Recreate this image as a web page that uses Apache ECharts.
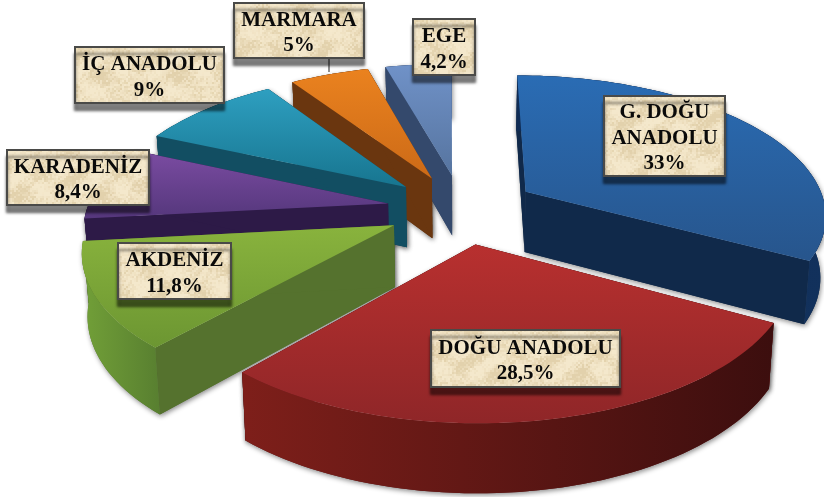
<!DOCTYPE html>
<html><head><meta charset="utf-8">
<style>html,body{margin:0;padding:0;background:#fff}#c{width:824px;height:497px}</style>
<script src="https://cdn.jsdelivr.net/npm/echarts@6/dist/echarts.min.js"></script>
</head><body><div id="c"></div>
<script>
// ---- data ----
var categories = ['G. DOĞU\nANADOLU', 'DOĞU ANADOLU', 'AKDENİZ', 'KARADENİZ', 'İÇ ANADOLU', 'MARMARA', 'EGE'];
var values = [33, 28.5, 11.8, 8.4, 9, 5, 4.2];

// ---- style / layout ----
var topColors = [['#2a6cb4','#27558c'],['#b8302f','#8f2628'],['#89b33d','#6c9632'],['#7b4ca2','#55377c'],['#2e9fc0','#17758f'],['#ea821f','#cc6a17'],['#7092c8','#56749f']];
var wallColors = ['#10294a','#5c1515','#55722e','#2d1a47','#124e62','#6a360f','#34496c'];
var rimColors = [['#0f2c55','#12315c'],['#7e1f1a','#3c0e0e'],['#72a038','#587f30'],['#2d1a47','#2d1a47'],['#124e62','#124e62'],['#6a360f','#6a360f'],['#34496c','#34496c']];
var paintOrder = [6, 5, 4, 3, 2, 0, 1];
var labelBoxes = [[604,96,121,80],[431,330,189,57],[118,243,113,56],[7,150,142,55],[75,47,149,56],[234,3,130,55],[413,19,62,56]];
var CX = 462, CY = 209, RX = 301, KY = 139, D = 6.5, EXPLODE = 0.25, BOTTOM_SHRINK = 0.985;

function project(x, y) {
  var s = D / (D + y);
  return [CX + RX * x * s, CY - KY * y * s, s];
}
function lower(p) {
  return [CX + (p[0] - CX) * BOTTOM_SHRINK, p[1] + 61 + 38 * (p[2] - 1)];
}
function pt(a) { return [a[0], a[1]]; }

var angles = [], acc = 0;
values.forEach(function (v) {
  var a0 = acc; acc += v / 100 * 2 * Math.PI; angles.push([a0, acc]);
});

function grad(c, horizontal) {
  return new echarts.graphic.LinearGradient(0, 0, horizontal ? 1 : 0, horizontal ? 0 : 1,
    [{offset: 0, color: c[0]}, {offset: 1, color: c[1]}]);
}
function poly(points, fill, extra) {
  return {type: 'polygon', shape: {points: points}, style: Object.assign({fill: fill}, extra || {})};
}
function geometry(i) {
  var a0 = angles[i][0], a1 = angles[i][1], mid = (a0 + a1) / 2;
  var ox = EXPLODE * Math.sin(mid), oy = EXPLODE * Math.cos(mid);
  var apex = project(ox, oy), arc = [], n = Math.max(6, Math.ceil((a1 - a0) / 0.03));
  for (var k = 0; k <= n; k++) {
    var a = a0 + (a1 - a0) * k / n;
    arc.push(project(ox + Math.sin(a), oy + Math.cos(a)));
  }
  return {apex: apex, arc: arc, n: n, apexB: lower(apex), arcB: arc.map(lower)};
}
function renderShadow(params, api) {
  var i = api.value(0), g = geometry(i);
  var sh = {shadowBlur: 5, shadowColor: 'rgba(0,0,0,0.45)', shadowOffsetX: 1, shadowOffsetY: 2};
  return {type: 'group', children: [
    poly([pt(g.apex), pt(g.arc[0]), pt(g.arcB[0]), pt(g.apexB)], wallColors[i], sh),
    poly([pt(g.apex), pt(g.arc[g.n]), pt(g.arcB[g.n]), pt(g.apexB)], wallColors[i], sh),
    poly(g.arc.map(pt).concat(g.arcB.slice().reverse().map(pt)), wallColors[i], sh)
  ]};
}
function renderSlice(params, api) {
  var i = api.value(0), g = geometry(i);
  return {type: 'group', children: [
    poly([pt(g.apex), pt(g.arc[0]), pt(g.arcB[0]), pt(g.apexB)], wallColors[i]),
    poly([pt(g.apex), pt(g.arc[g.n]), pt(g.arcB[g.n]), pt(g.apexB)], wallColors[i]),
    poly(g.arc.map(pt).concat(g.arcB.slice().reverse().map(pt)), grad(rimColors[i], true)),
    poly([pt(g.apex)].concat(g.arc.map(pt)), grad(topColors[i], false))
  ]};
}

// parchment texture for the label boxes (pattern fill only, carries no data)
function parchment() {
  var c = document.createElement('canvas'); c.width = 160; c.height = 120;
  var g = c.getContext('2d');
  g.fillStyle = '#efe1c2'; g.fillRect(0, 0, 160, 120);
  for (var y = 0; y < 120; y += 2) for (var x = 0; x < 160; x += 2) {
    var h = Math.sin(x * 12.9898 + y * 78.233) * 43758.5453; h -= Math.floor(h);
    var w = Math.sin(x * 0.157 + Math.sin(y * 0.105) * 2) + Math.sin(y * 0.209 + Math.sin(x * 0.0785) * 2);
    var t = w / 2 * 0.6 + (h - 0.5) * 0.9;
    g.fillStyle = t > 0 ? 'rgba(250,240,214,' + Math.min(0.5, t) + ')' : 'rgba(214,194,150,' + Math.min(0.5, -t) + ')';
    g.fillRect(x, y, 2, 2);
  }
  return c;
}
var texture = parchment();

function renderLabel(params, api) {
  var i = api.value(0), b = labelBoxes[i];
  var kids = [];
  if (i === 5) {
    kids.push({type: 'line', shape: {x1: 329, y1: b[1] + b[3], x2: 329, y2: 72},
      style: {stroke: '#444', lineWidth: 1.2}});
  }
  kids.push({type: 'rect', shape: {x: b[0], y: b[1], width: b[2], height: b[3]},
    style: {fill: {image: texture, repeat: 'repeat'}, stroke: '#4a4a48', lineWidth: 2,
      shadowBlur: 3, shadowColor: 'rgba(0,0,0,0.5)', shadowOffsetY: 7}});
  kids.push({type: 'text', x: b[0] + b[2] / 2, y: b[1] + b[3] / 2 + 2.5,
    style: {text: categories[i] + '\n' + String(values[i]).replace('.', ',') + '%',
      align: 'center', verticalAlign: 'middle', fill: '#0a0a0a',
      font: 'bold 21px "Liberation Serif"', lineHeight: 25.5}});
  return {type: 'group', children: kids};
}

var chart = echarts.init(document.getElementById('c'), null, {renderer: 'canvas'});
var sliceRows = paintOrder.map(function (i) { return [i]; });
chart.setOption({
  animation: false,
  backgroundColor: '#ffffff',
  series: [
    {type: 'custom', coordinateSystem: 'none', renderItem: renderShadow, silent: true, z: 0, data: sliceRows},
    {type: 'custom', coordinateSystem: 'none', renderItem: renderSlice, silent: true, z: 1, data: sliceRows},
    {type: 'custom', coordinateSystem: 'none', renderItem: renderLabel, silent: true, z: 2,
      data: categories.map(function (c, i) { return [i]; })}
  ]
});
</script></body></html>
